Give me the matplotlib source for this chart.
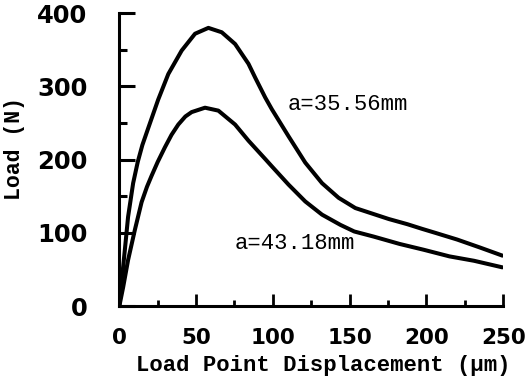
import numpy as np
import matplotlib
matplotlib.use("Agg")
import matplotlib.pyplot as plt
from matplotlib.ticker import MultipleLocator

# Kurven (Verschiebung in um, Last in N)
disp_a1 = [0, 1.4, 3.6, 5.7, 9, 12, 15, 18.8, 25.3, 31.9, 40.6, 49.3, 58,
           66.7, 75.4, 84.1, 88.5, 95, 99.3, 110.2, 121.1, 132, 142.8, 153.7,
           175.5, 187.5, 197.3, 206, 220, 235, 249.5]
load_a1 = [0, 31, 77, 122, 168, 197, 220, 243, 282, 317, 349, 372, 380,
           374, 358, 331, 312, 285, 269, 232, 196, 168, 148, 134,
           119, 112, 105.5, 100, 91, 80, 69]

disp_a2 = [0, 2.5, 5.7, 10.1, 14.5, 18, 21, 25, 29.7, 34, 38.4, 43, 47.1,
           55.8, 64.5, 75.4, 84.1, 95, 99.3, 110.2, 121.1, 132, 144, 153,
           165.7, 182.5, 198.3, 215, 231, 249.5]
load_a2 = [0, 26, 63, 104, 142, 163, 178, 197, 217, 234, 248, 259, 265,
           271, 267, 248, 226, 201, 191, 166, 143, 125, 111, 102,
           95, 85, 77, 68, 62, 53]

labels = ["a=35.56mm", "a=43.18mm"]
label_pos = [(109.5, 276), (75, 86)]

fig = plt.figure(figsize=(5.28, 3.78), dpi=100)
ax = fig.add_axes([0.226, 0.19, 0.727, 0.775])

ax.plot(disp_a1, load_a1, color="black", lw=2.9, solid_joinstyle="round",
        solid_capstyle="round")
ax.plot(disp_a2, load_a2, color="black", lw=2.9, solid_joinstyle="round",
        solid_capstyle="round")

for txt, (tx, ty) in zip(labels, label_pos):
    ax.text(tx, ty, txt, family="Liberation Mono", fontsize=16,
            va="center", ha="left")

ax.set_xlim(0, 250)
ax.set_ylim(0, 400)
ax.xaxis.set_major_locator(MultipleLocator(50))
ax.xaxis.set_minor_locator(MultipleLocator(25))
ax.yaxis.set_major_locator(MultipleLocator(100))
ax.yaxis.set_minor_locator(MultipleLocator(50))

for s in ["top", "right"]:
    ax.spines[s].set_visible(False)
for s in ["left", "bottom"]:
    ax.spines[s].set_linewidth(2.2)

ax.tick_params(axis="y", which="major", direction="in", length=11.5,
               width=2.2, pad=23)
ax.tick_params(axis="y", which="minor", direction="in", length=6, width=2.2)
ax.tick_params(axis="x", which="major", direction="in", length=9,
               width=2, pad=16)
ax.tick_params(axis="x", which="minor", direction="in", length=4, width=2)

for lab in ax.get_yticklabels():
    lab.set_fontweight("bold")
    lab.set_fontsize(17.5)
for lab in ax.get_xticklabels():
    lab.set_fontweight("bold")
    lab.set_fontsize(15.5)

ax.set_xlabel("Load Point Displacement (\u00b5m)", family="Liberation Mono",
              fontsize=16, fontweight="bold", va="baseline")
ax.set_ylabel("Load (N)", family="Liberation Mono", fontsize=15.5,
              fontweight="bold")
ax.xaxis.set_label_coords(0.53, -0.222)
ax.yaxis.set_label_coords(-0.245, 0.537)

fig.savefig("out.png", dpi=100)
